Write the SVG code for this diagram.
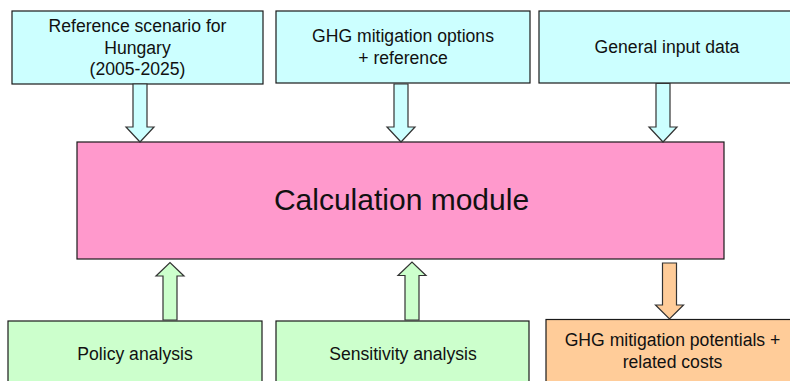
<svg xmlns="http://www.w3.org/2000/svg" width="790" height="381" viewBox="0 0 790 381">
<style>
.box{stroke:#1a1a1a;stroke-width:1.2}
.cyan{fill:#CCFFFF}
.pink{fill:#FF99CC}
.green{fill:#CCFFCC}
.orange{fill:#FFCC99}
.arrow{stroke:#333;stroke-width:1.2;stroke-linejoin:miter}
text{font-family:"Liberation Sans",Arial,sans-serif;font-size:17.6px;fill:#111;text-anchor:middle}
.big{font-size:30px}
</style>
<rect width="790" height="381" fill="#fff"/>
<g id="ref-scenario">
<rect class="box cyan" x="12" y="11" width="251" height="73"/>
<text x="137.5" y="32">Reference scenario for</text>
<text x="137.5" y="53.5">Hungary</text>
<text x="137.5" y="75">(2005-2025)</text>
</g>
<g id="ghg-options">
<rect class="box cyan" x="276" y="11" width="254" height="72"/>
<text x="403" y="42">GHG mitigation options</text>
<text x="403" y="64">+ reference</text>
</g>
<g id="general-input">
<rect class="box cyan" x="539" y="11" width="256" height="72"/>
<text x="667" y="53">General input data</text>
</g>
<g id="calculation">
<rect class="box pink" x="77" y="142" width="647" height="117"/>
<text class="big" x="401.5" y="210">Calculation module</text>
</g>
<g id="policy">
<rect class="box green" x="8" y="321" width="254" height="70"/>
<text x="135" y="360">Policy analysis</text>
</g>
<g id="sensitivity">
<rect class="box green" x="276" y="321" width="253" height="70"/>
<text x="403" y="360">Sensitivity analysis</text>
</g>
<g id="potentials">
<rect class="box orange" x="546" y="319.5" width="250" height="70"/>
<text x="672.5" y="346">GHG mitigation potentials +</text>
<text x="672.5" y="368">related costs</text>
</g>
<g id="connectors">
<polygon class="arrow cyan" points="133,84 147,84 147,127 154,127 140,142 126,127 133,127"/>
<polygon class="arrow cyan" points="394,84 408,84 408,127 415,127 401,142 387,127 394,127"/>
<polygon class="arrow cyan" points="656,83.5 670,83.5 670,127 677,127 663,142 649,127 656,127"/>
<polygon class="arrow green" points="163,320 177,320 177,276 184,276 170,262.5 156,276 163,276"/>
<polygon class="arrow green" points="405,320 419,320 419,275.5 426,275.5 412,262 398,275.5 405,275.5"/>
<polygon class="arrow orange" points="662.5,263 676.5,263 676.5,305 683.5,305 669.5,319 655.5,305 662.5,305"/>
</g>
</svg>
